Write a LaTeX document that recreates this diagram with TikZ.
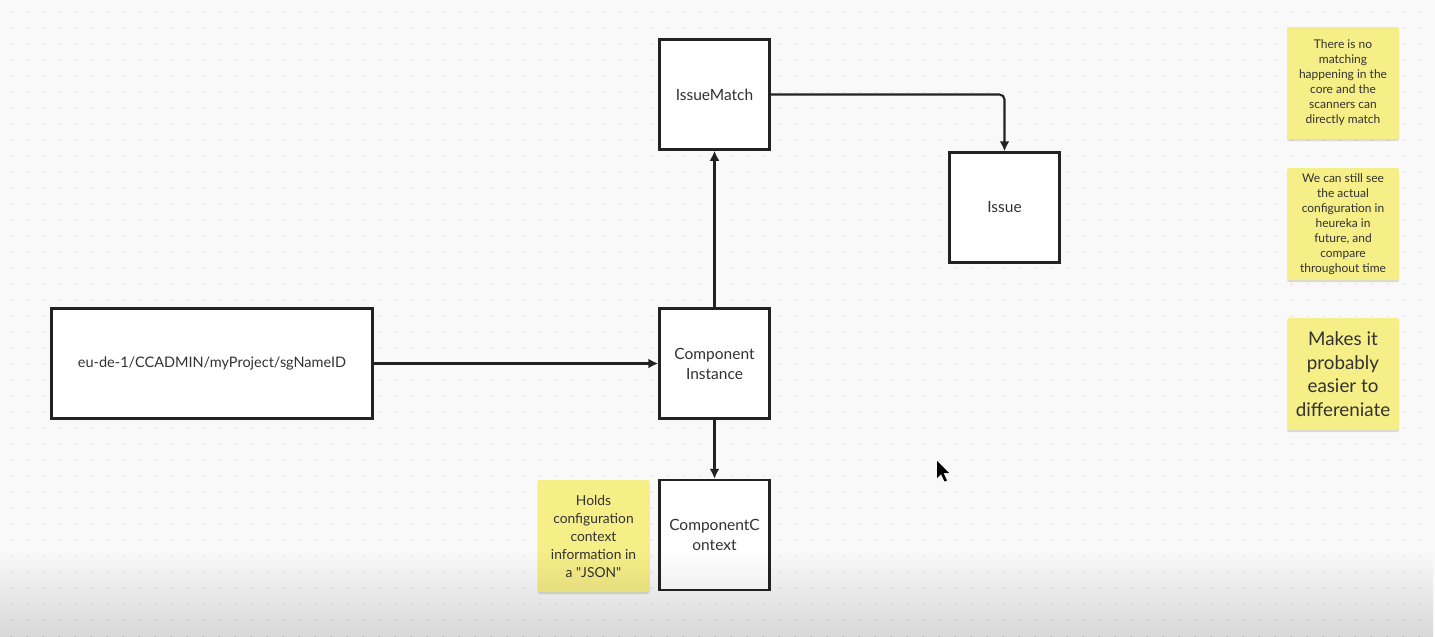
\documentclass[tikz,border=0pt]{standalone}
\usepackage{fontspec}
\setmainfont{Lato}
\usepackage{xcolor}
\usetikzlibrary{arrows.meta,shadows,fadings}
\definecolor{board}{RGB}{249, 249, 249}
\definecolor{sticky}{RGB}{246, 238, 135}
\definecolor{ink}{RGB}{34, 34, 34}
\definecolor{txt}{RGB}{50, 50, 50}
\tikzfading[name=fade down, top color=transparent!100, bottom color=transparent!0]

\begin{document}
\begin{tikzpicture}[x=1pt, y=-1pt,
    entity/.style={draw=ink, line width=2.5pt, fill=white, text=txt,
        minimum width=110pt, minimum height=110pt, align=center,
        font=\fontsize{15.5}{20}\selectfont},
    link/.style={draw=ink, line width=2.1pt, -{Latex[length=10pt,width=10pt]}},
    note/.style={fill=sticky, rounded corners=2pt, text=txt, align=center,
        minimum width=112pt, minimum height=112pt,
        drop shadow={shadow xshift=0pt, shadow yshift=-2pt, opacity=0.12, fill=black}},
    gdot/.style={draw=black!22, line width=1.4pt, line cap=round, dash pattern=on 0pt off 16pt}]
        % board with dot grid
        \fill[board] (0,0) rectangle (1435,637);
        \useasboundingbox (0,0) rectangle (1435,637);
        \foreach \y in {12.3,28.3,...,637}
            \draw[gdot] (11.3,\y)--(1435,\y);
        % entities
        \node[entity](match) at (714.5, 94.5) {IssueMatch};
        \node[entity](issue) at (1004.5, 207.5) {Issue};
        \node[entity](inst) at (714.5, 363.5) {Component\\Instance};
        \node[entity](ctx) at (714.5, 535) {ComponentC\\ontext};
        \node[entity, minimum width=321pt, font=\fontsize{14.5}{18}\selectfont](path) at (212, 363.5) {eu-de-1/CCADMIN/myProject/sgNameID};
        % connectors
        \draw[link] (path)--(inst);
        \draw[link] (inst)--(match);
        \draw[link] (inst)--(ctx);
        \draw[link, rounded corners=5pt] (match.east) -| (issue.north);
        % sticky notes
        \node[note, font=\fontsize{12}{15}\selectfont](n1) at (1343, 83)
            {There is no\\matching\\happening in the\\core and the\\scanners can\\directly match};
        \node[note, font=\fontsize{12}{15}\selectfont](n2) at (1343, 224)
            {We can still see\\the actual\\configuration in\\heureka in\\future, and\\compare\\throughout time};
        \node[note, font=\fontsize{18.8}{23.5}\selectfont](n3) at (1343, 374)
            {Makes it\\probably\\easier to\\differeniate};
        \node[note, font=\fontsize{13.8}{18}\selectfont](n4) at (593.5, 536)
            {Holds\\configuration\\context\\information in\\a \textquotedbl JSON\textquotedbl};
        % mouse pointer
        \fill[black] (937,461)--(937,478)--(941,474)--(944.5,481.5)--(947,480.5)--(943.5,473)--(949,473)--cycle;
        % darkening at the bottom edge
        \fill[black, opacity=0.13, path fading=fade down] (0,550) rectangle (1435,637);
    \end{tikzpicture}
\end{document}
